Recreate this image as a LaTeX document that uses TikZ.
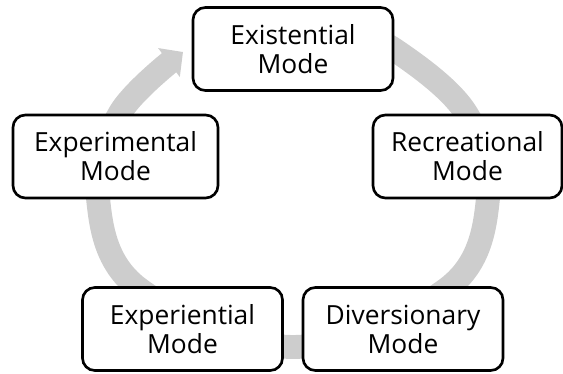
\documentclass[tikz,border=0pt]{standalone}
\usepackage{fontspec}
\setmainfont{Open Sans}
\usetikzlibrary{arrows.meta}

\definecolor{ringgray}{RGB}{205,205,205}

\begin{document}
\begin{tikzpicture}[x=0.02cm, y=-0.02cm,
    mode/.style={draw, fill=white, line width=1.5pt, rounded corners=7pt,
        minimum width=4cm, minimum height=1.66cm, align=center,
        font=\fontsize{15}{16.5}\selectfont},
    ring/.style={ringgray, line width=13.6pt, -{Triangle[length=10pt, width=20pt]}}]
    \useasboundingbox (0,0) rectangle (563,374);

    % Cycle band
    \draw[ring] plot[smooth, tension=0.6] coordinates
        {(345,30) (395,50) (466,113) (488,198) (448,288) (293,347)
         (138,288) (98,198) (120,113) (183,52)};

    % Modes
    \node[mode] (exist) at (293,49) {Existential\\Mode};
    \node[mode, minimum width=3.78cm] (recre) at (467.5,156.5) {Recreational\\Mode};
    \node[mode] (divers) at (403,329) {Diversionary\\Mode};
    \node[mode] (experien) at (182.5,329) {Experiential\\Mode};
    \node[mode, minimum width=4.1cm] (experim) at (115.5,156.5) {Experimental\\Mode};
\end{tikzpicture}
\end{document}
